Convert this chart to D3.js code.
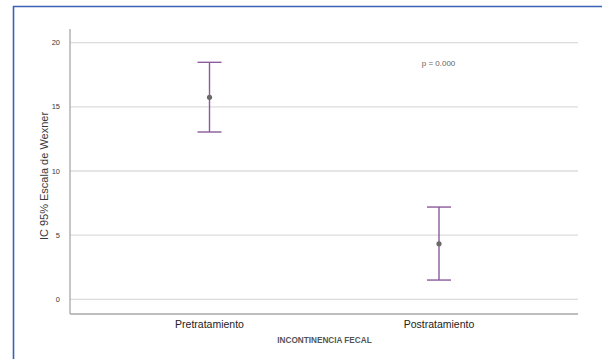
<!DOCTYPE html>
<html>
<head>
<meta charset="utf-8">
<script src="https://cdn.jsdelivr.net/npm/d3@7"></script>
<style>
  body { margin: 0; background: #fff; }
  svg { display: block; font-family: Arial, "Liberation Sans", sans-serif; }
</style>
</head>
<body>
<svg width="602" height="359"></svg>
<script>
// data
const groups = ["Pretratamiento", "Postratamiento"];
const means = [15.74, 4.33];
const lower = [13.04, 1.50];
const upper = [18.47, 7.19];
const yTicks = [0, 5, 10, 15, 20];

const svg = d3.select("svg");

// blue frame (top + left only visible)
svg.append("path")
    .attr("d", "M13.5,359 L13.5,6.5 L602,6.5")
    .attr("fill", "none")
    .attr("stroke", "#3b62b5")
    .attr("stroke-width", 1.6);

const plotLeft = 70, plotRight = 578, plotTop = 29, plotBottom = 314;

const y = d3.scaleLinear().domain([0, 20]).range([299.3, 42.7]);
const x = d3.scalePoint().domain(groups).range([209.5, 439]);

// gridlines
svg.append("g")
  .selectAll("line")
  .data(yTicks)
  .join("line")
    .attr("x1", plotLeft).attr("x2", plotRight)
    .attr("y1", d => y(d)).attr("y2", d => y(d))
    .attr("stroke", "#dcdcdc")
    .attr("stroke-width", 1.3);

// axes lines
svg.append("line")
    .attr("x1", plotLeft).attr("x2", plotLeft)
    .attr("y1", plotTop).attr("y2", plotBottom)
    .attr("stroke", "#a8a8a8").attr("stroke-width", 1.3);
svg.append("line")
    .attr("x1", plotLeft).attr("x2", plotRight)
    .attr("y1", plotBottom).attr("y2", plotBottom)
    .attr("stroke", "#a8a8a8").attr("stroke-width", 1.3);

// y tick labels
svg.append("g")
  .selectAll("text")
  .data(yTicks)
  .join("text")
    .attr("x", 60)
    .attr("y", d => y(d))
    .attr("dy", "0.35em")
    .attr("text-anchor", "end")
    .attr("font-size", 7.5)
    .attr("fill", "#3a3a3a")
    .text(d => d);

// y title
svg.append("text")
    .attr("transform", "translate(48,176) rotate(-90)")
    .attr("text-anchor", "middle")
    .attr("font-size", 11)
    .attr("fill", "#3a3a3a")
    .text("IC 95% Escala de Wexner");

// category labels
svg.append("g")
  .selectAll("text")
  .data(groups)
  .join("text")
    .attr("x", d => x(d))
    .attr("y", 328)
    .attr("text-anchor", "middle")
    .attr("font-size", 10.5)
    .attr("fill", "#222")
    .text(d => d);

// x title
svg.append("text")
    .attr("x", 324.5)
    .attr("y", 343)
    .attr("text-anchor", "middle")
    .attr("font-size", 8.2)
    .attr("font-weight", "bold")
    .attr("fill", "#555")
    .text("INCONTINENCIA FECAL");

// error bars
const bars = svg.append("g")
    .attr("stroke", "#8a5a9c")
    .attr("stroke-width", 1.4)
    .attr("fill", "none");
groups.forEach((g, i) => {
  const cx = x(g);
  bars.append("line").attr("x1", cx).attr("x2", cx).attr("y1", y(upper[i])).attr("y2", y(lower[i]));
  bars.append("line").attr("x1", cx - 12).attr("x2", cx + 12).attr("y1", y(upper[i])).attr("y2", y(upper[i]));
  bars.append("line").attr("x1", cx - 12).attr("x2", cx + 12).attr("y1", y(lower[i])).attr("y2", y(lower[i]));
});

// means
svg.append("g")
  .selectAll("circle")
  .data(groups)
  .join("circle")
    .attr("cx", d => x(d))
    .attr("cy", (d, i) => y(means[i]))
    .attr("r", 2.6)
    .attr("fill", "#6a6a6a");

// p value
svg.append("text")
    .attr("x", 438.5)
    .attr("y", 66)
    .attr("text-anchor", "middle")
    .attr("font-size", 8)
    .attr("fill", "#666")
    .text("p = 0.000");
</script>
</body>
</html>
